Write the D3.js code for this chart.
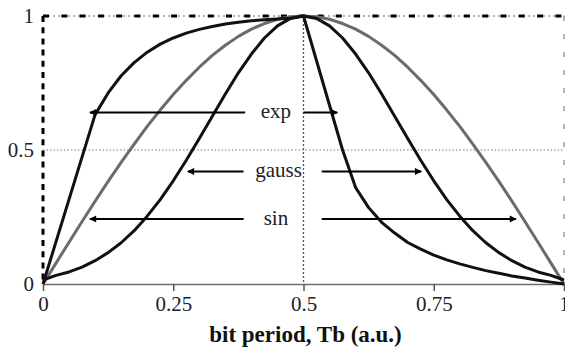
<!DOCTYPE html>
<html>
<head>
<meta charset="utf-8">
<script src="https://cdn.jsdelivr.net/npm/d3@7"></script>
<style>
  html, body { margin: 0; padding: 0; background: #fff; }
  svg { display: block; }
</style>
</head>
<body>
<svg id="chart" width="565" height="350"></svg>
<script>
// Pulse shapes over one bit period (normalised amplitude), sampled every Tb/40
const bitTime = [0, 0.025, 0.05, 0.075, 0.1, 0.125, 0.15, 0.175, 0.2, 0.225, 0.25,
                 0.275, 0.3, 0.325, 0.35, 0.375, 0.4, 0.425, 0.45, 0.475, 0.5,
                 0.525, 0.55, 0.575, 0.6, 0.625, 0.65, 0.675, 0.7, 0.725, 0.75,
                 0.775, 0.8, 0.825, 0.85, 0.875, 0.9, 0.925, 0.95, 0.975, 1];

// null = no sample at that instant
const expPulse = [0, null, null, null, 0.632, 0.713, 0.777, 0.826, 0.865, 0.895, 0.918,
                  0.936, 0.95, 0.961, 0.97, 0.977, 0.982, 0.986, 0.989, 0.992, 1,
                  null, null, 0.5, 0.36, 0.285, 0.23, 0.19, 0.155, 0.13, 0.108,
                  0.09, 0.075, 0.062, 0.05, 0.04, 0.03, 0.022, 0.014, 0.007, 0];
const gaussPulse = [0.015, 0.032, 0.045, 0.063, 0.087, 0.117, 0.154, 0.199, 0.253, 0.315, 0.385,
                    0.462, 0.543, 0.626, 0.709, 0.788, 0.858, 0.918, 0.963, 0.991, 1,
                    0.991, 0.963, 0.918, 0.858, 0.788, 0.709, 0.626, 0.543, 0.462, 0.385,
                    0.315, 0.253, 0.199, 0.154, 0.117, 0.087, 0.063, 0.045, 0.032, 0.015];
const sinPulse = [0, 0.078, 0.156, 0.233, 0.309, 0.383, 0.454, 0.522, 0.588, 0.649, 0.707,
                  0.76, 0.809, 0.853, 0.891, 0.924, 0.951, 0.972, 0.988, 0.997, 1,
                  0.997, 0.988, 0.972, 0.951, 0.924, 0.891, 0.853, 0.809, 0.76, 0.707,
                  0.649, 0.588, 0.522, 0.454, 0.383, 0.309, 0.233, 0.156, 0.078, 0];

const xTicks = [0, 0.25, 0.5, 0.75, 1];
const xTickLabels = ["0", "0.25", "0.5", "0.75", "1"];
const yTicks = [0, 0.5, 1];
const yTickLabels = ["0", "0.5", "1"];
const xTitle = "bit period, Tb (a.u.)";

const labelNames = ["exp", "gauss", "sin"];
const labelLevels = [0.64, 0.42, 0.243];

const svg = d3.select("#chart");
const W = 565, H = 350;
svg.append("rect").attr("width", W).attr("height", H).attr("fill", "#fff");

const x = d3.scaleLinear().domain([0, 1]).range([43, 564]);
const y = d3.scaleLinear().domain([0, 1]).range([284, 16]);

const serif = "'Liberation Serif', 'Times New Roman', serif";

// Reference lines
const g = svg.append("g");
g.append("line") // mid-level dotted
  .attr("x1", x(0)).attr("x2", x(1)).attr("y1", y(0.5)).attr("y2", y(0.5))
  .attr("stroke", "#7a7a7a").attr("stroke-width", 1).attr("stroke-dasharray", "1.5,2");
g.append("line") // centre dotted
  .attr("x1", x(0.5)).attr("x2", x(0.5)).attr("y1", y(1)).attr("y2", y(0))
  .attr("stroke", "#555").attr("stroke-width", 1.3).attr("stroke-dasharray", "2,2");
g.append("line") // right border dashes
  .attr("x1", x(1)).attr("x2", x(1)).attr("y1", y(1)).attr("y2", y(0))
  .attr("stroke", "#b5b5b5").attr("stroke-width", 2).attr("stroke-dasharray", "5,13");
// top border: thin dotted plus heavy dashes
g.append("line")
  .attr("x1", x(0)).attr("x2", x(1)).attr("y1", y(1)).attr("y2", y(1))
  .attr("stroke", "#666").attr("stroke-width", 1).attr("stroke-dasharray", "2,3");
g.append("line")
  .attr("x1", x(0)).attr("x2", x(1)).attr("y1", y(1)).attr("y2", y(1))
  .attr("stroke", "#000").attr("stroke-width", 3).attr("stroke-dasharray", "6,12.3");
// left border heavy dashes
g.append("line")
  .attr("x1", x(0)).attr("x2", x(0)).attr("y1", y(1)).attr("y2", y(0))
  .attr("stroke", "#000").attr("stroke-width", 3).attr("stroke-dasharray", "6,5.2");

// X axis
const xAxis = d3.axisBottom(x)
  .tickValues(xTicks)
  .tickFormat((d, i) => xTickLabels[i])
  .tickSize(7).tickSizeOuter(0).tickPadding(5);
const xa = svg.append("g").attr("transform", `translate(0,${y(0)})`).call(xAxis);
xa.select(".domain").attr("stroke", "#6e6e6e").attr("stroke-width", 1.5);
xa.selectAll(".tick line").attr("stroke", "#555").attr("stroke-width", 1.5);
xa.selectAll(".tick text").attr("font-size", 21).attr("fill", "#222").attr("font-family", serif);

// Y axis labels only
const yAxis = d3.axisLeft(y)
  .tickValues(yTicks)
  .tickFormat((d, i) => yTickLabels[i])
  .tickSize(0).tickPadding(9);
const ya = svg.append("g").attr("transform", `translate(${x(0)},0)`).call(yAxis);
ya.select(".domain").remove();
ya.selectAll(".tick text").attr("font-size", 21).attr("fill", "#222").attr("font-family", serif);

svg.append("text")
  .attr("x", x(0.5) + 2).attr("y", 342)
  .attr("text-anchor", "middle")
  .attr("font-family", serif).attr("font-weight", "bold").attr("font-size", 23)
  .attr("fill", "#111")
  .text(xTitle);

// Curves
const line = d3.line().x(d => x(d[0])).y(d => y(d[1]));
const pts = vals => bitTime.map((t, i) => [t, vals[i]]).filter(d => d[1] !== null);
const curves = [
  { vals: sinPulse, color: "#6b6b6b" },
  { vals: gaussPulse, color: "#111" },
  { vals: expPulse, color: "#111" }
];
curves.forEach(c => {
  svg.append("path").datum(pts(c.vals))
    .attr("d", line)
    .attr("fill", "none").attr("stroke", c.color)
    .attr("stroke-width", 3).attr("stroke-linejoin", "round");
});

// Arrow markers
const defs = svg.append("defs");
defs.append("marker").attr("id", "head")
  .attr("viewBox", "0 0 10 10").attr("refX", 9).attr("refY", 5)
  .attr("markerWidth", 4.5).attr("markerHeight", 3.5).attr("markerUnits", "strokeWidth")
  .attr("orient", "auto")
  .append("path").attr("d", "M0,0 L10,5 L0,10 z").attr("fill", "#000");

// left tip, left gap end, text centre, right gap start, right tip (in bit-period units)
const arrowSpans = [
  [0.09, 0.388, 0.447, 0.50, 0.565],
  [0.278, 0.385, 0.452, 0.535, 0.726],
  [0.09, 0.385, 0.447, 0.535, 0.908]
];
labelNames.forEach((name, i) => {
  const [lt, le, tc, rs, rt] = arrowSpans[i];
  const yy = y(labelLevels[i]);
  svg.append("line")
    .attr("x1", x(le)).attr("x2", x(lt)).attr("y1", yy).attr("y2", yy)
    .attr("stroke", "#000").attr("stroke-width", 2).attr("marker-end", "url(#head)");
  svg.append("line")
    .attr("x1", x(rs)).attr("x2", x(rt)).attr("y1", yy).attr("y2", yy)
    .attr("stroke", "#000").attr("stroke-width", 2).attr("marker-end", "url(#head)");
  svg.append("text")
    .attr("x", x(tc)).attr("y", yy + 6)
    .attr("text-anchor", "middle")
    .attr("font-family", serif).attr("font-size", 21).attr("fill", "#222")
    .text(name);
});
</script>
</body>
</html>
